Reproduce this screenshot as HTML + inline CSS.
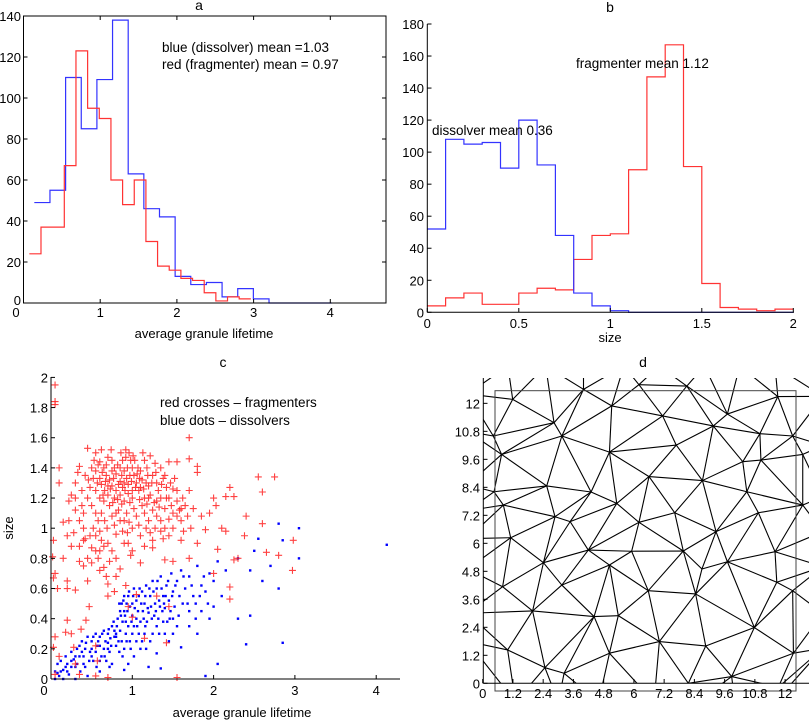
<!DOCTYPE html>
<html><head><meta charset="utf-8"><style>
body{margin:0;background:#fff}
svg{display:block}
text{font-family:"Liberation Sans",Arial,sans-serif;fill:#000}
</style></head><body>
<svg id="fig" width="809" height="721" viewBox="0 0 809 721" xmlns="http://www.w3.org/2000/svg">
<defs><clipPath id="clipd"><rect x="483" y="378" width="326" height="305"/></clipPath></defs>
<g id="pa"></g>
<g id="pb"></g>
<g id="pc"></g>
<g id="pd"></g>
</svg>
<script>
// ---------- Panel a data ----------
const aRedStart = 0.076, aRedWidth = 0.152;
const aRedCounts = [24,37,37,67,123,95,90,60,48,60,30,18,16,12,11,5,1,3,2];
const aBlueStart = 0.141, aBlueWidth = 0.204;
const aBlueCounts = [49,55,110,85,109,138,63,46,42,13,9,10,3,7,2,0,0,0,0];
const aXTicks = [0,1,2,3,4];
const aYTicks = [0,20,40,60,80,100,120,140];
// ---------- Panel b data ----------
const bStart = 0, bWidth = 0.1;
const bBlueCounts = [52,108,105,106,90,120,92,48,12,4,1,0,0,0,0,0,0,0,0,0];
const bRedCounts = [4,9,12,5,5,12,15,14,33,48,49,89,147,167,91,18,3,2,1,2];
const bXTicks = [0,0.5,1,1.5,2];
const bYTicks = [0,20,40,60,80,100,120,140,160,180];
// ---------- Panel c data ----------
const cRed = [[0.05,1.95],[0.05,1.84],[0.05,1.82],[0.1,1.4],[0.1,1.3],[0.15,1.04],[0.15,0.8],[0.03,0.92],[0.02,0.81],[0.03,0.67],[0.05,0.7],[0.08,0.6],[0.05,0.28],[0.03,0.21],[0.1,0.15],[0.18,0.31],[0.2,0.39],[0.2,0.65],[0.2,0.6],[0.25,0.3],[0.28,0.21],[0.3,0.1],[0.35,0.03],[0.37,0.33],[0.3,0.59],[0.4,0.75],[0.45,0.65],[0.47,0.48],[0.43,0.39],[0.55,0.22],[0.57,0.12],[0.55,0.02],[0.65,0.74],[0.7,0.63],[0.7,0.55],[0.78,0.58],[0.8,0.68],[0.92,0.62],[0.95,0.48],[1.0,0.41],[1.05,0.56],[0.98,0.82],[1.1,0.77],[1.15,0.27],[1.3,0.55],[1.45,0.48],[1.5,0.78],[1.55,0.01],[1.42,0.24],[1.7,0.8],[1.8,0.9],[1.6,0.92],[1.4,0.79],[1.25,0.87],[2.0,0.7],[2.05,0.86],[2.2,0.61],[2.25,0.79],[2.2,0.53],[2.3,0.8],[2.38,0.95],[2.4,1.08],[2.55,1.34],[2.75,1.34],[2.6,1.24],[2.6,1.03],[2.65,0.84],[2.8,0.82],[2.98,0.92],[2.97,0.72],[0.05,0.03],[0.7,0.01],
[1.7,1.6],[1.7,1.46],[1.8,1.41],[1.8,1.37],[1.55,1.44],[1.45,1.44],[2.2,1.27],[2.15,1.21],[2.25,1.21],[2.0,1.2],[2.03,1.15],[1.95,1.1],[1.9,0.99],[1.85,1.08],[2.1,1.0],[2.15,0.98],
[0.35,1.41],[0.3,1.3],[0.25,1.22],[0.22,1.18],[0.3,1.12],[0.35,1.05],[0.28,0.97],[0.4,1.0],[0.42,0.93],[0.45,1.53],[0.55,1.5],[0.6,1.44],[0.65,1.4],[0.55,1.38],[0.52,1.33],[0.48,1.27],[0.45,1.2],[0.5,1.15],[0.55,1.1],[0.58,1.05],[0.6,0.98],[0.62,0.92],[0.65,0.88],[0.55,0.85],[0.5,0.87],[0.58,0.8],[0.62,1.52],[0.7,1.47],[0.75,1.45],[0.68,1.35],[0.72,1.32],[0.62,1.29],[0.66,1.25],[0.7,1.22],[0.75,1.28],[0.78,1.2],[0.8,1.36],[0.82,1.42],[0.85,1.31],[0.88,1.27],[0.9,1.38],[0.93,1.33],[0.95,1.29],[0.92,1.52],[0.98,1.45],[1.0,1.4],[1.02,1.35],[1.05,1.3],[1.08,1.25],[1.1,1.38],[1.12,1.32],[1.15,1.45],[1.18,1.4],[1.2,1.28],[1.22,1.22],[1.25,1.35],[1.28,1.43],[1.3,1.3],[1.32,1.25],[1.35,1.2],[1.38,1.33],[1.42,1.27],[1.45,1.2],[1.48,1.15],[1.5,1.26],[1.55,1.18],[1.58,1.12],[1.6,1.05],[1.62,1.2],[1.65,1.15],[1.68,1.08],[1.7,1.25],[1.75,1.13],[0.72,1.15],[0.75,1.08],[0.78,1.02],[0.8,0.96],[0.83,1.12],[0.85,1.05],[0.88,0.98],[0.9,1.18],[0.93,1.1],[0.96,1.04],[1.0,1.2],[1.02,1.13],[1.05,1.08],[1.08,1.02],[1.1,0.95],[1.12,1.15],[1.15,1.1],[1.2,1.05],[1.25,1.12],[1.28,1.0],[1.3,1.08],[1.35,1.05],[1.4,1.13],[1.45,1.06],[1.5,1.0],[1.55,1.08],[1.38,0.93],[1.25,0.92],[0.7,0.9],[0.75,0.85],[0.8,0.8],[0.95,0.9],[1.0,0.85],[0.85,0.73],[0.4,1.1],[0.38,1.25],[0.42,1.35],[0.35,0.88],[0.6,1.2],[0.65,1.18],[0.85,1.22],[0.88,1.45],[1.0,1.25],[1.03,1.45],[1.13,1.5],[1.22,1.48],[1.35,1.4],[0.7,1.28],[0.8,1.25],[0.9,1.3],[0.97,1.35],[1.07,1.4],[1.17,1.3],[0.85,1.4],[0.75,1.38],[0.6,1.33],[0.95,1.23],[1.15,1.2],[1.1,1.27],[0.55,1.25],[0.45,0.8],[0.35,0.78],[1.3,1.18],[1.4,1.35],[0.92,1.47],
[0.58,1.42],[0.63,1.37],[0.67,1.31],[0.73,1.26],[0.77,1.33],[0.83,1.29],[0.87,1.35],[0.91,1.25],[0.94,1.4],[0.99,1.31],[1.04,1.27],[1.06,1.36],[1.09,1.33],[1.14,1.26],[1.19,1.35],[1.24,1.3],[0.68,1.42],[0.78,1.4],[0.96,1.5],[1.01,1.48],[0.86,1.5],[0.74,1.52],[0.53,1.45],[0.5,1.4],[0.46,1.32],[0.57,1.3],[0.64,1.22],[0.76,1.17],[0.82,1.19],[0.87,1.16],[0.97,1.17],[1.09,1.19],[1.18,1.16],[1.27,1.17],[1.33,1.14],[1.42,1.2],[1.47,1.3],[1.52,1.33],[1.36,1.29],[1.29,1.37],[0.52,1.0],[0.48,0.95],[0.66,1.05],[0.69,1.0],[0.9,1.05],[0.94,0.97],[1.17,1.0],[1.22,0.97],[1.35,0.98],[1.45,0.95],[1.6,1.13],[1.63,0.98],[1.72,1.0],[0.4,0.92],[0.3,1.2],[0.22,1.05],[0.2,0.95],[0.25,0.88],[0.5,0.77],[0.6,0.72],[0.72,0.78],[0.68,0.68],[0.33,1.37],[0.38,1.15],[1.2,1.2],[1.0,1.0],[0.8,1.1],[0.62,1.1],[0.55,0.95],[1.15,0.88],[1.4,1.0],[1.5,1.1],[1.55,1.25],[0.9,0.9],[0.6,0.85]];
const cBlue = [[0.05,0.0],[0.05,0.05],[0.08,0.1],[0.1,0.02],[0.12,0.12],[0.15,0.06],[0.18,0.15],[0.2,0.1],[0.22,0.03],[0.25,0.18],[0.28,0.13],[0.3,0.08],[0.32,0.2],[0.35,0.15],[0.38,0.25],[0.4,0.1],[0.42,0.2],[0.45,0.28],[0.48,0.18],[0.5,0.25],[0.52,0.12],[0.55,0.3],[0.57,0.22],[0.6,0.28],[0.62,0.15],[0.65,0.32],[0.67,0.25],[0.7,0.3],[0.72,0.18],[0.75,0.35],[0.78,0.28],[0.8,0.22],[0.82,0.4],[0.85,0.32],[0.87,0.5],[0.9,0.45],[0.92,0.38],[0.95,0.55],[0.97,0.48],[1.0,0.42],[1.02,0.6],[1.05,0.52],[1.07,0.45],[1.1,0.38],[1.12,0.58],[1.15,0.5],[1.17,0.62],[1.2,0.44],[1.22,0.55],[1.25,0.65],[1.28,0.5],[1.3,0.6],[1.32,0.4],[1.35,0.68],[1.38,0.55],[1.4,0.47],[1.42,0.62],[1.45,0.52],[1.48,0.7],[1.5,0.58],[1.55,0.65],[1.6,0.72],[1.65,0.6],[1.7,0.68],[1.75,0.55],[1.8,0.75],[1.85,0.62],[1.9,0.58],[1.95,0.7],[2.0,0.65],[2.05,0.78],[2.1,0.55],[2.15,0.72],[2.3,0.8],[2.45,0.72],[2.5,0.85],[2.6,0.65],[2.7,0.75],[2.8,0.6],[2.85,0.92],[3.05,1.0],[3.05,0.8],[4.13,0.89],[2.8,1.03],[2.55,0.93],[2.4,0.23],[2.85,0.24],[2.45,0.42],[2.3,0.4],[2.05,0.1],[1.9,0.02],[1.6,0.21],[1.2,0.08],[1.35,0.07],[1.3,0.17],[0.9,0.06],[0.95,0.1],[1.0,0.3],[1.05,0.25],[1.1,0.2],[1.15,0.3],[0.98,0.2],[0.88,0.15],[0.75,0.1],[0.6,0.05],[0.45,0.02],[0.3,0.0],[0.9,0.55],[0.93,0.5],[1.0,0.5],[0.85,0.45],[0.88,0.38],[0.92,0.3],[0.95,0.35],[1.05,0.4],[1.08,0.55],[1.13,0.45],[1.18,0.38],[1.23,0.48],[1.27,0.42],[1.33,0.52],[1.37,0.45],[1.43,0.38],[1.47,0.45],[1.52,0.48],[1.57,0.42],[1.62,0.5],[1.7,0.45],[1.78,0.5],[1.85,0.45],[1.95,0.4],[2.0,0.48],[0.65,0.2],[0.68,0.12],[0.7,0.24],[0.73,0.27],[0.6,0.22],[0.55,0.18],[0.5,0.2],[0.4,0.15],[0.35,0.22],[0.25,0.08],[0.15,0.0],[0.2,0.05],[0.08,0.04],[0.78,0.32],[0.8,0.3],[0.83,0.25],[1.25,0.3],[1.3,0.35],[1.4,0.3],[1.45,0.25],[1.5,0.3],[1.55,0.35],[1.7,0.35],[1.8,0.3],
[0.12,0.05],[0.18,0.08],[0.25,0.12],[0.32,0.1],[0.38,0.18],[0.43,0.24],[0.47,0.12],[0.52,0.28],[0.58,0.25],[0.63,0.3],[0.66,0.15],[0.71,0.33],[0.74,0.22],[0.77,0.38],[0.81,0.35],[0.84,0.5],[0.86,0.42],[0.89,0.52],[0.91,0.42],[0.94,0.45],[0.96,0.58],[0.99,0.38],[1.01,0.55],[1.03,0.47],[1.06,0.35],[1.09,0.6],[1.11,0.5],[1.14,0.4],[1.16,0.55],[1.19,0.47],[1.21,0.6],[1.24,0.4],[1.26,0.58],[1.29,0.45],[1.31,0.65],[1.34,0.48],[1.36,0.6],[1.39,0.5],[1.41,0.55],[1.44,0.65],[1.46,0.4],[1.49,0.55],[1.53,0.62],[1.58,0.55],[1.63,0.68],[1.68,0.5],[1.73,0.62],[1.78,0.4],[1.83,0.55],[1.88,0.68],[1.93,0.5],[0.87,0.25],[0.9,0.2],[0.97,0.25],[1.02,0.15],[1.08,0.3],[1.12,0.25],[1.17,0.2],[1.22,0.25],[0.84,0.18],[0.72,0.08],[0.6,0.12],[0.56,0.08],[0.7,0.2],[0.8,0.28],[0.3,0.15],[0.36,0.05],[0.42,0.08],[0.5,0.15],[1.02,0.35],[0.93,0.25],[1.16,0.35],[1.33,0.3],[1.38,0.38],[1.5,0.4]];
const cXTicks = [0,1,2,3,4];
const cYTicks = [0,0.2,0.4,0.6,0.8,1,1.2,1.4,1.6,1.8,2];
const cYTickLabels = ["0","0.2","0.4","0.6","0.8","1","1.2","1.4","1.6","1.8","2"];
// ---------- Panel d data ----------
const dNodes = [[1.19,12.17],[2.83,11.17],[5.12,11.89],[7.14,11.46],[9.71,11.54],[11.71,12.29],[0.75,9.81],[2.54,8.46],[5.03,9.91],[6.6,8.86],[8.72,8.69],[10.32,9.5],[0.82,7.64],[3.47,6.93],[5.32,7.71],[7.62,7.31],[10.94,7.31],[9.26,6.5],[1.11,6.24],[2.41,5.17],[5.03,5.07],[5.91,5.66],[7.96,5.67],[9.71,5.21],[11.67,4.33],[0.79,4.14],[1.98,3.1],[4.42,2.86],[5.38,2.9],[6.57,3.97],[8.45,3.83],[10.78,2.39],[7.01,1.79],[8.85,1.6],[0.99,1.43],[2.47,0.67],[3.23,0.43],[5.03,1.29],[9.88,0.29],[8.16,0.0],[11.73,-0.17],[12.33,1.29],[12.3,3.97],[11.6,5.64],[12.7,7.64],[11.04,9.57],[12.7,9.81],[12.3,10.6],[8.1,12.74],[3.14,10.6],[2.87,7.14],[3.14,4.21],[4.19,5.71],[0.45,8.21],[0.42,10.6],[7.68,10.21],[9.15,11.03],[11.0,10.7],[10.48,8.21],[4.3,8.2],[6.2,6.9],[8.7,4.9],[4.0,12.6],[6.2,12.8],
[-0.6,12.4],[-0.6,10.8],[-0.6,8.5],[-0.6,7.4],[-0.6,6.2],[-0.6,4.9],[-0.6,3.0],[-0.6,1.8],[1.0,13.6],[2.5,13.6],[4.0,13.6],[5.6,13.6],[7.0,13.6],[8.8,13.6],[10.2,13.6],[11.6,13.6],[13.5,12.3],[13.5,10.2],[13.5,8.0],[13.5,6.5],[13.5,5.0],[13.5,3.0],[13.5,1.5],[1.3,-0.8],[3.0,-0.8],[4.6,-0.8],[6.8,-0.8],[8.5,-0.8],[10.0,-0.8],[11.6,-0.8]];
const dXTicks = [0,1.2,2.4,3.6,4.8,6,7.2,8.4,9.6,10.8,12];
const dYTicks = [0,1.2,2.4,3.6,4.8,6,7.2,8.4,9.6,10.8,12];

const NS="http://www.w3.org/2000/svg";
function el(parent,tag,attrs,txt){const e=document.createElementNS(NS,tag);for(const k in attrs)e.setAttribute(k,attrs[k]);if(txt!==undefined)e.textContent=txt;parent.appendChild(e);return e;}
function fmt(v){return String(Math.round(v*10)/10);}

// ===== Panel a =====
(function(){
const g=document.getElementById('pa');
const X=v=>23.5+v*76.7, Y=v=>303-v*2.05;
function stairs(start,w,counts,color,name){
  let d=`M${X(start)},${Y(counts[0])}`;
  counts.forEach((c,i)=>{d+=` H${X(start+(i+1)*w)}`; if(i<counts.length-1) d+=` V${Y(counts[i+1])}`;});
  const p=el(g,'path',{d:d,fill:'none',stroke:color,'stroke-width':1.2});
  
  
}
stairs(aBlueStart,aBlueWidth,aBlueCounts,'#3333ff','dissolver-histogram');
stairs(aRedStart,aRedWidth,aRedCounts,'#ff3333','fragmenter-histogram');
el(g,'rect',{x:23.5,y:16,width:362.5,height:287,fill:'none',stroke:'#000','stroke-width':1});
aXTicks.forEach(t=>{el(g,'line',{x1:X(t),x2:X(t),y1:303,y2:299,stroke:'#000'});el(g,'line',{x1:X(t),x2:X(t),y1:16,y2:20,stroke:'#000'});
 const tx=el(g,'text',{x:t===0?16:X(t),y:317,'font-size':13,'text-anchor':'middle'},String(t));
 
 });
aYTicks.forEach(t=>{el(g,'line',{x1:23.5,x2:27.5,y1:Y(t),y2:Y(t),stroke:'#000'});el(g,'line',{x1:386,x2:382,y1:Y(t),y2:Y(t),stroke:'#000'});
 const tx=el(g,'text',{x:21,y:t===0?Y(t)+2:Y(t)+5,'font-size':13,'text-anchor':'end'},String(t));
 
 });
let t=el(g,'text',{x:199,y:10,'font-size':14,'text-anchor':'middle'},'a');
t=el(g,'text',{x:204,y:338,'font-size':13,'text-anchor':'middle'},'average granule lifetime');
t=el(g,'text',{x:162,y:52,'font-size':13.5},'blue (dissolver) mean =1.03');
t=el(g,'text',{x:162,y:69,'font-size':13.5},'red (fragmenter) mean = 0.97');
})();

// ===== Panel b =====
(function(){
const g=document.getElementById('pb');
const X=v=>427.3+v*183, Y=v=>312.3-v*1.6017;
function stairs(start,w,counts,color,name){
  let d=`M${X(start)},${Y(counts[0])}`;
  counts.forEach((c,i)=>{d+=` H${X(start+(i+1)*w)}`; if(i<counts.length-1) d+=` V${Y(counts[i+1])}`;});
  const p=el(g,'path',{d:d,fill:'none',stroke:color,'stroke-width':1.2});
  
  
}
stairs(bStart,bWidth,bRedCounts,'#ff3333','fragmenter-histogram');
stairs(bStart,bWidth,bBlueCounts,'#3333ff','dissolver-histogram');
el(g,'line',{x1:427.3,x2:427.3,y1:24,y2:312.3,stroke:'#000'});
el(g,'line',{x1:427.3,x2:794,y1:312.3,y2:312.3,stroke:'#000'});
bXTicks.forEach(t=>{el(g,'line',{x1:X(t),x2:X(t),y1:312.3,y2:308,stroke:'#000'});
 const tx=el(g,'text',{x:X(t),y:328,'font-size':13,'text-anchor':'middle'},String(t));
 
 });
bYTicks.forEach(t=>{el(g,'line',{x1:427.3,x2:431.5,y1:Y(t),y2:Y(t),stroke:'#000'});
 const tx=el(g,'text',{x:424,y:Y(t)+5,'font-size':13,'text-anchor':'end'},String(t));
 
 });
let t=el(g,'text',{x:610,y:12,'font-size':14,'text-anchor':'middle'},'b');
t=el(g,'text',{x:610,y:342,'font-size':13,'text-anchor':'middle'},'size');
t=el(g,'text',{x:432,y:135,'font-size':13.5},'dissolver mean 0.36');
t=el(g,'text',{x:576,y:68,'font-size':13.5},'fragmenter mean 1.12');
})();

// ===== Panel c =====
(function(){
const g=document.getElementById('pc');
const X=v=>51+v*81.3, Y=v=>679-v*150.8;
cBlue.forEach(p=>{const r=el(g,'rect',{x:X(p[0])-1.2,y:Y(p[1])-1.2,width:2.4,height:2.4,fill:'#0000ff'});
 
 });
cRed.forEach(p=>{const x=X(p[0]),y=Y(p[1]);const pa=el(g,'path',{d:`M${x-3.5},${y}H${x+3.5}M${x},${y-3.5}V${y+3.5}`,stroke:'#ff2020','stroke-width':1.1,'stroke-opacity':0.85});
 
 });
el(g,'line',{x1:51,x2:51,y1:377,y2:679,stroke:'#000'});
el(g,'line',{x1:51,x2:400,y1:679,y2:679,stroke:'#000'});
cXTicks.forEach(t=>{el(g,'line',{x1:X(t),x2:X(t),y1:679,y2:675,stroke:'#000'});
 const tx=el(g,'text',{x:t===0?44:X(t),y:695,'font-size':13,'text-anchor':'middle'},String(t));
 
 });
cYTicks.forEach((t,i)=>{el(g,'line',{x1:51,x2:55,y1:Y(t),y2:Y(t),stroke:'#000'});
 const tx=el(g,'text',{x:48,y:Y(t)+5,'font-size':13,'text-anchor':'end'},cYTickLabels[i]);
 
 });
let t=el(g,'text',{x:223,y:367,'font-size':14,'text-anchor':'middle'},'c');
t=el(g,'text',{x:242,y:717,'font-size':13,'text-anchor':'middle'},'average granule lifetime');
t=el(g,'text',{x:13,y:528,'font-size':13,'text-anchor':'middle',transform:'rotate(-90 13 528)'},'size');
t=el(g,'text',{x:160,y:407,'font-size':13.5},'red crosses – fragmenters');
t=el(g,'text',{x:160,y:425,'font-size':13.5},'blue dots – dissolvers');
})();

// ===== Panel d =====
(function(){
const g=document.getElementById('pd');
const X=v=>482.7+v*25.2, Y=v=>683.3-v*23.33;
function circ(a,b,c){const d=2*(a[0]*(b[1]-c[1])+b[0]*(c[1]-a[1])+c[0]*(a[1]-b[1]));
 const ux=((a[0]*a[0]+a[1]*a[1])*(b[1]-c[1])+(b[0]*b[0]+b[1]*b[1])*(c[1]-a[1])+(c[0]*c[0]+c[1]*c[1])*(a[1]-b[1]))/d;
 const uy=((a[0]*a[0]+a[1]*a[1])*(c[0]-b[0])+(b[0]*b[0]+b[1]*b[1])*(a[0]-c[0])+(c[0]*c[0]+c[1]*c[1])*(b[0]-a[0]))/d;
 return [ux,uy,(a[0]-ux)**2+(a[1]-uy)**2];}
const P=dNodes.slice();const n=P.length;
P.push([-100,-100],[200,-100],[6,200]);
let tris=[[n,n+1,n+2]];tris[0].c=circ(P[n],P[n+1],P[n+2]);
for(let i=0;i<n;i++){const p=P[i];const bad=[],keep=[];
 tris.forEach(t=>{const c=t.c;((p[0]-c[0])**2+(p[1]-c[1])**2<c[2])?bad.push(t):keep.push(t);});
 const edges={};bad.forEach(t=>{[[t[0],t[1]],[t[1],t[2]],[t[2],t[0]]].forEach(e=>{const k=Math.min(e[0],e[1])+'_'+Math.max(e[0],e[1]);edges[k]=edges[k]?null:e;});});
 tris=keep;for(const k in edges){const e=edges[k];if(!e)continue;const t=[e[0],e[1],i];t.c=circ(P[e[0]],P[e[1]],p);tris.push(t);}}
const seen={};
const lg=el(g,'g',{'clip-path':'url(#clipd)'});
tris.forEach(t=>{[[t[0],t[1]],[t[1],t[2]],[t[2],t[0]]].forEach(e=>{if(e[0]>=n||e[1]>=n)return;const k=Math.min(e[0],e[1])+'_'+Math.max(e[0],e[1]);if(seen[k])return;seen[k]=1;
 const l=el(lg,'line',{x1:X(P[e[0]][0]),y1:Y(P[e[0]][1]),x2:X(P[e[1]][0]),y2:Y(P[e[1]][1]),stroke:'#000','stroke-width':1.1});
 
 });});
const box=el(g,'rect',{x:495,y:390.7,width:301,height:300.3,fill:'none',stroke:'#444','stroke-width':1});


el(g,'line',{x1:483.3,x2:483.3,y1:378,y2:683.3,stroke:'#000'});
el(g,'line',{x1:483.3,x2:809,y1:683.3,y2:683.3,stroke:'#000'});
dXTicks.forEach(t=>{el(g,'line',{x1:X(t),x2:X(t),y1:683.3,y2:679,stroke:'#000'});
 const tx=el(g,'text',{x:X(t),y:698,'font-size':13,'text-anchor':'middle'},fmt(t));
 
 });
dYTicks.forEach(t=>{el(g,'line',{x1:483.3,x2:487.5,y1:Y(t),y2:Y(t),stroke:'#000'});
 const tx=el(g,'text',{x:480,y:Y(t)+5,'font-size':13,'text-anchor':'end'},fmt(t));
 
 });
let t=el(g,'text',{x:643,y:367,'font-size':14,'text-anchor':'middle'},'d');
})();
</script>
</body></html>
